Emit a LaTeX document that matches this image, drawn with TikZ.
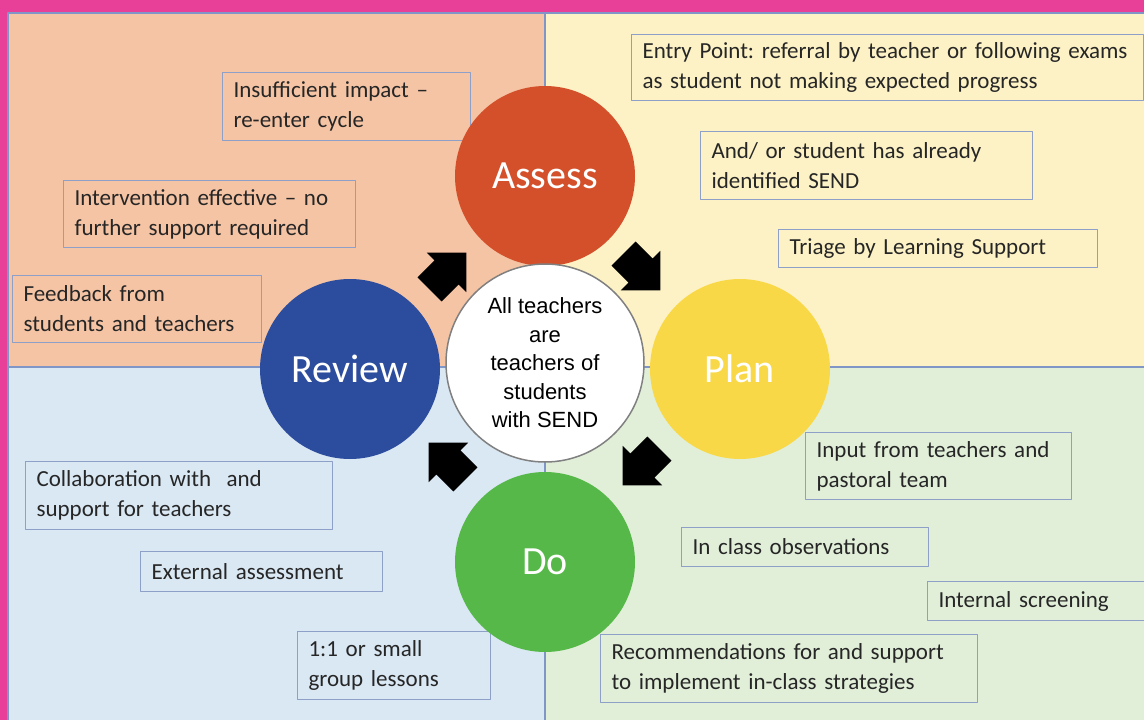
\documentclass[tikz,border=0pt]{standalone}
\usepackage{fontspec}
\setmainfont{Carlito}
\newfontfamily\arialfont{Liberation Sans}
\usepackage{tikz}
\usetikzlibrary{positioning}
\definecolor{pinkframe}{RGB}{232,64,152}
\definecolor{salmon}{RGB}{245,196,164}
\definecolor{paleyellow}{RGB}{253,242,197}
\definecolor{paleblue}{RGB}{218,232,244}
\definecolor{palegreen}{RGB}{225,239,217}
\definecolor{quadline}{RGB}{128,150,198}
\definecolor{noteline}{RGB}{142,160,200}
\definecolor{notetext}{RGB}{38,38,38}
\definecolor{assessred}{RGB}{212,80,43}
\definecolor{planyellow}{RGB}{249,216,72}
\definecolor{dogreen}{RGB}{86,184,72}
\definecolor{reviewblue}{RGB}{44,76,157}
\frenchspacing

\begin{document}
\begin{tikzpicture}[line cap=round,line join=round,x=1pt,y=-1pt,
  note/.style={draw=noteline,line width=1.1pt,anchor=north west,align=left,inner xsep=11pt,inner ysep=0pt,text=notetext,font=\fontsize{23}{30}\selectfont},
  stage/.style={circle,minimum size=180pt,inner sep=0pt,text=white,font=\fontsize{40}{44}\selectfont}]
\useasboundingbox (0,0) rectangle (1144,720);
\clip (0,0) rectangle (1144,720);
% frame and quadrants
\fill[pinkframe] (0,0) rectangle (1144,720);
\filldraw[fill=salmon,draw=quadline,line width=1.2pt] (8,13) rectangle (545,367);
\filldraw[fill=paleyellow,draw=quadline,line width=1.2pt] (545,13) rectangle (1160,367);
\filldraw[fill=paleblue,draw=quadline,line width=1.2pt] (8,367) rectangle (545,740);
\filldraw[fill=palegreen,draw=quadline,line width=1.2pt] (545,367) rectangle (1160,740);
% notes
\node[note,text width=226pt,minimum height=68pt] (impact) at (222,72) {Insufficient impact --\\re-enter cycle};
\node[note,text width=270pt,minimum height=67pt] (effective) at (63,180) {Intervention effective -- no\\further support required};
\node[note,text width=227pt,minimum height=67pt] (feedback) at (12,275) {Feedback from\\students and teachers};
\node[note,text width=490pt,minimum height=66pt] (entry) at (631,34) {Entry Point: referral by teacher or following exams\\as student not making expected progress};
\node[note,text width=310pt,minimum height=68pt] (already) at (700,131) {And/ or student has already\\identified SEND};
\node[note,text width=297pt,minimum height=38pt] (triage) at (778,229) {Triage by Learning Support};
\node[note,text width=244pt,minimum height=67pt] (input) at (805,432) {Input from teachers and\\pastoral team};
\node[note,text width=225pt,minimum height=39pt] (observe) at (681,527) {In class observations};
\node[note,text width=220pt,minimum height=39pt] (screening) at (927,581) {Internal screening};
\node[note,text width=355pt,minimum height=68pt] (recommend) at (600,634) {Recommendations for and support\\to implement in-class strategies};
\node[note,text width=285pt,minimum height=68pt] (collab) at (25,461) {Collaboration with\ \ and\\support for teachers};
\node[note,text width=220pt,minimum height=40pt] (external) at (140,551) {External assessment};
\node[note,text width=171pt,minimum height=68pt] (lessons) at (297,631) {1:1 or small\\group lessons};
% cycle
\node[stage,fill=assessred] (assess) at (545,176) {Assess};
\node[stage,fill=planyellow] (plan) at (740,369) {Plan};
\node[stage,fill=dogreen] (do) at (545,562) {Do};
\node[stage,fill=reviewblue] (review) at (350,369) {Review};
\node[circle,draw=gray,line width=1.5pt,fill=white,minimum size=198pt,inner sep=0pt,align=center,text=black,font=\arialfont\fontsize{22}{28.5}\selectfont] (hub) at (545,363) {All teachers\\are\\teachers of\\students\\with SEND};
% block arrows
\foreach \cx/\cy/\ang in {448/271/45, 642/272/-45, 641/467/-135, 447/461/135}
\fill[black,shift={(\cx,\cy)},rotate=\ang] (-26,-17) -- (-2,-17) -- (-2,-28) -- (26,0) -- (-2,28) -- (-2,17) -- (-26,17) -- cycle;
\end{tikzpicture}
\end{document}
